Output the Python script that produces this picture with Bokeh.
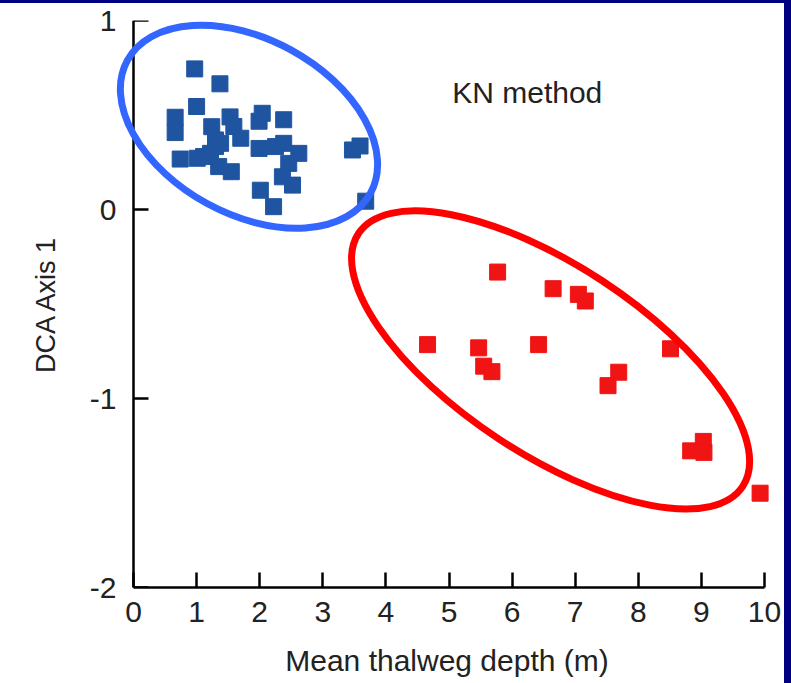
from bokeh.plotting import figure
from bokeh.models import FixedTicker, Label, Range1d, LinearAxis, Div
from bokeh.layouts import row, column
from bokeh.embed import file_html
from bokeh.resources import INLINE
import math

# ---- data ----
blue_x = [0.97, 1.37, 1.00, 0.66, 0.66, 1.24, 1.53, 1.59, 1.70, 2.04, 1.99, 2.38,
          1.30, 1.38, 0.74, 1.01, 1.22, 1.35, 1.55, 1.99, 2.25, 2.38, 2.62, 2.46,
          2.36, 2.52, 2.01, 2.22, 3.47, 3.59, 3.68, 1.11, 1.30]
blue_y = [0.744, 0.665, 0.545, 0.488, 0.407, 0.438, 0.490, 0.439, 0.377, 0.509, 0.467, 0.475,
          0.368, 0.350, 0.267, 0.271, 0.297, 0.227, 0.200, 0.323, 0.333, 0.350, 0.297, 0.244,
          0.173, 0.129, 0.102, 0.015, 0.315, 0.336, 0.044, 0.280, 0.333]
red_x = [5.77, 6.65, 7.05, 7.16, 4.66, 5.47, 6.42, 8.51, 5.55, 5.68, 7.69, 7.52, 9.03, 8.83, 9.04, 9.93]
red_y = [-0.331, -0.419, -0.449, -0.484, -0.715, -0.732, -0.715, -0.737, -0.829, -0.858,
         -0.861, -0.932, -1.227, -1.277, -1.285, -1.501]
x_ticks = [0, 1, 2, 3, 4, 5, 6, 7, 8, 9, 10]
y_ticks = [-2, -1, 0, 1]
y_tick_labels = ["-2", "-1", "0", "1"]

# ellipse groups (centre in data units, size in screen px, tilt in degrees)
blue_ell = dict(x=1.83, y=0.438, w=277, h=175, deg=-28.6)
red_ell = dict(x=6.61, y=-0.796, w=460, h=189, deg=-33.35)

FONT = "Liberation Sans"
NAVY = "#000080"

p = figure(width=784, height=680, output_backend="svg", toolbar_location=None,
           x_range=Range1d(-0.2536, 10.19), y_range=Range1d(-2, 1),
           min_border_left=117, min_border_right=8, min_border_top=17, min_border_bottom=96,
           x_axis_location=None, y_axis_location=None)
p.outline_line_color = None
p.grid.visible = False
p.background_fill_color = "white"
p.border_fill_color = "white"

def style_axis(ax):
    ax.axis_line_width = 2.5
    ax.axis_line_color = "black"
    ax.major_tick_line_width = 2.5
    ax.major_tick_line_color = "black"
    ax.major_tick_in = 15
    ax.major_tick_out = 0
    ax.minor_tick_line_color = None
    ax.major_label_text_font = FONT
    ax.major_label_text_font_size = "30px"
    ax.major_label_text_color = "#222222"
    ax.axis_label_text_font = FONT
    ax.axis_label_text_font_size = "30px"
    ax.axis_label_text_font_style = "normal"
    ax.axis_label_text_color = "#222222"

# x axis (bottom panel)
xa = LinearAxis(ticker=FixedTicker(ticks=x_ticks), bounds=(0, 10),
                axis_label="Mean thalweg depth (m)")
style_axis(xa)
xa.major_label_standoff = 14
xa.axis_label_standoff = 19
p.add_layout(xa, "below")

# y axis labels (left panel, line hidden)
ya_lab = LinearAxis(ticker=FixedTicker(ticks=y_ticks), axis_label="DCA Axis 1")
style_axis(ya_lab)
ya_lab.axis_line_color = None
ya_lab.major_tick_line_color = None
ya_lab.major_label_standoff = 1
ya_lab.axis_label_standoff = 26
ya_lab.axis_label_text_font_size = "27px"
ya_lab.major_label_overrides = {t: s for t, s in zip(y_ticks, y_tick_labels)}
p.add_layout(ya_lab, "left")

# y axis line and ticks at x = 0
ya = LinearAxis(ticker=FixedTicker(ticks=y_ticks), bounds=(-2, 1), fixed_location=0)
style_axis(ya)
ya.major_label_text_color = None
p.add_layout(ya, "left")

p.scatter(blue_x, blue_y, marker="square", size=16, fill_color="#1f55a0", line_color="#1f55a0")
p.scatter(red_x, red_y, marker="square", size=16, fill_color="#f01414", line_color="#f01414")

for e, col in ((blue_ell, "#3366ff"), (red_ell, "#ff0000")):
    r = p.ellipse(x=[e["x"]], y=[e["y"]], width=[e["w"]], height=[e["h"]],
                  width_units="screen", height_units="screen",
                  angle=[math.radians(e["deg"])], fill_color=None,
                  line_color=col, line_width=7)
    r.level = "overlay"

p.add_layout(Label(x=6.24, y=0.62, text="KN method", text_align="center",
                   text_baseline="middle", text_font=FONT, text_font_size="30px",
                   text_color="#222222"))

top_edge = Div(width=791, height=3, margin=0, styles={"background-color": NAVY})
right_edge = Div(width=7, height=680, margin=0, styles={"background-color": NAVY})
layout = column(top_edge, row(p, right_edge, spacing=0), spacing=0)

open("out.html", "w").write(file_html(layout, INLINE))
